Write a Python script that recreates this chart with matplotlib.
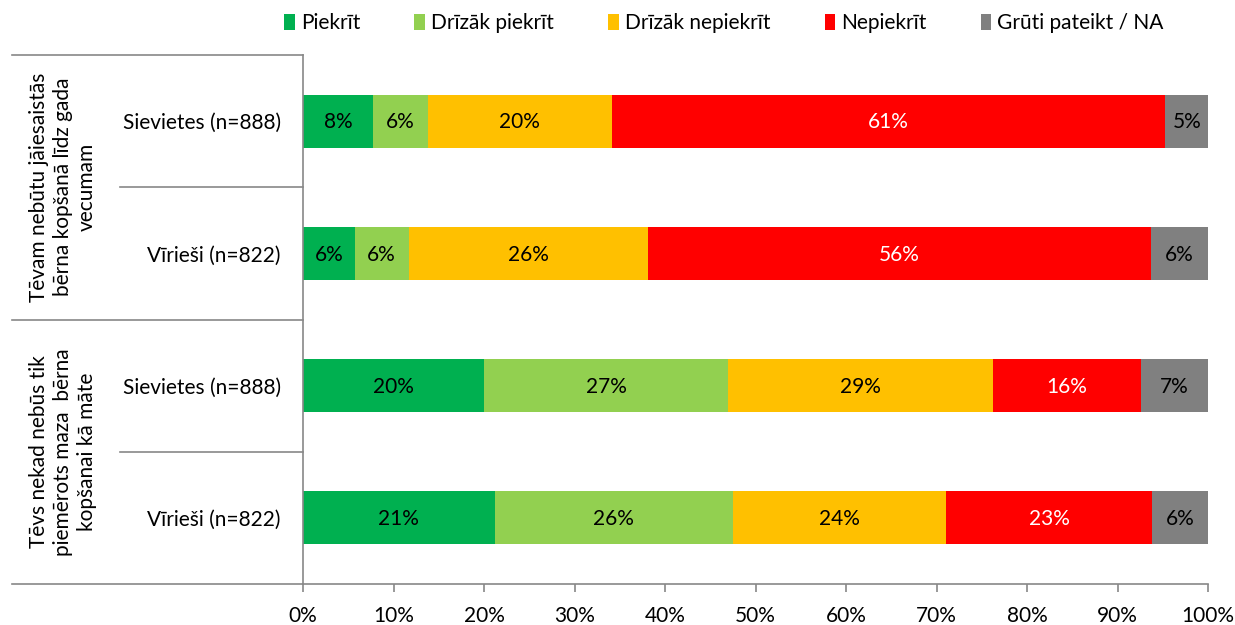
import matplotlib
matplotlib.use("Agg")
import matplotlib.pyplot as plt
from matplotlib.patches import Patch
import numpy as np

plt.rcParams['font.family'] = ['Lato', 'DejaVu Sans']

categories = ["Sievietes (n=888)", "Vīrieši (n=822)", "Sievietes (n=888)", "Vīrieši (n=822)"]
groups = ["Tēvam nebūtu jāiesaistās\nbērna kopšanā līdz gada\nvecumam",
          "Tēvs nekad nebūs tik\npiemērots maza  bērna\nkopšanai kā māte"]
series = ["Piekrīt", "Drīzāk piekrīt", "Drīzāk nepiekrīt", "Nepiekrīt", "Grūti pateikt / NA"]
piekrit = [7.7, 5.7, 20.0, 21.2]
drizak_piekrit = [6.1, 6.0, 27.0, 26.3]
drizak_nepiekrit = [20.3, 26.4, 29.2, 23.6]
nepiekrit = [61.2, 55.6, 16.4, 22.7]
gruti = [4.7, 6.3, 7.4, 6.2]
values = [piekrit, drizak_piekrit, drizak_nepiekrit, nepiekrit, gruti]
colors = ["#00B050", "#92D050", "#FFC000", "#FF0000", "#808080"]
text_colors = ["black", "black", "black", "white", "black"]
xticks = [0, 10, 20, 30, 40, 50, 60, 70, 80, 90, 100]
xticklabels = [f"{t}%" for t in xticks]

FS = 15
W, H = 1235, 625
fig = plt.figure(figsize=(W / 100, H / 100), dpi=100)
ax = fig.add_axes([303 / W, 1 - 584 / H, (1208 - 303) / W, (584 - 55) / H])

y = np.arange(len(categories))
left = np.zeros(len(categories))
for vals, col, tc in zip(values, colors, text_colors):
    vals = np.array(vals)
    ax.barh(y, vals, left=left, height=0.4, color=col, edgecolor='none')
    for yi, (l, v) in enumerate(zip(left, vals)):
        ax.text(l + v / 2, yi + 0.01, f"{v:.0f}%", ha='center', va='center',
                fontsize=FS, color=tc)
    left = left + vals

ax.set_xlim(0, 100)
ax.set_ylim(3.5, -0.5)
ax.set_xticks(xticks)
ax.set_xticklabels(xticklabels, fontsize=FS)
ax.set_yticks(y)
ax.set_yticklabels(categories, fontsize=FS)
ax.tick_params(axis='y', length=0, pad=16)
ax.tick_params(axis='x', length=6, width=1.2, color='#888888', direction='out', pad=10)
for s in ['top', 'right']:
    ax.spines[s].set_visible(False)
for s in ['left', 'bottom']:
    ax.spines[s].set_color('#888888')
    ax.spines[s].set_linewidth(1.2)

# left-side grouping lines
trans = ax.get_yaxis_transform()
x_far = (12 - 303) / 905
x_near = (120 - 303) / 905
for yv, xs in [(-0.5, x_far), (0.5, x_near), (1.5, x_far), (2.5, x_near), (3.5, x_far)]:
    ax.plot([xs, 0], [yv, yv], transform=trans, color='#888888', lw=1.2, clip_on=False)

x_grp = (63 - 303) / 905
for gi, g in enumerate(groups):
    ax.text(x_grp, 0.5 + 2 * gi, g, transform=trans, rotation=90, ha='center', va='center',
            fontsize=FS, multialignment='center', linespacing=1.25)

handles = [Patch(facecolor=c, edgecolor='none', label=s) for s, c in zip(series, colors)]
fig.legend(handles=handles, loc='center', bbox_to_anchor=(724 / W, 1 - 23 / H), ncol=5,
           frameon=False, fontsize=FS, handlelength=0.5, handleheight=0.8,
           handletextpad=0.3, columnspacing=2.6)

fig.savefig("out.png", dpi=100)
